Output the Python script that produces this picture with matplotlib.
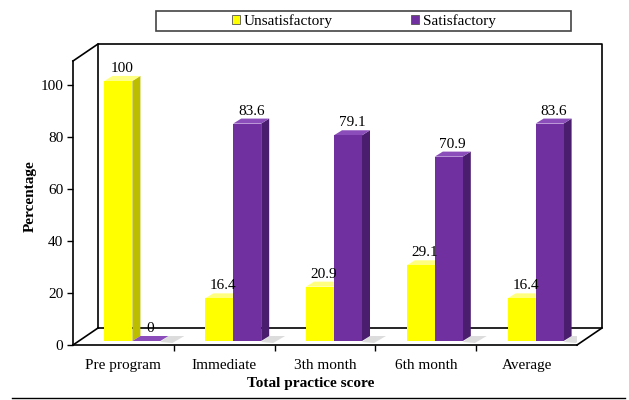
import matplotlib

matplotlib.use('Agg')
import matplotlib.pyplot as plt
from matplotlib.patches import Polygon, Rectangle
from matplotlib.lines import Line2D
import numpy as np

plt.rcParams['font.family'] = ['Liberation Serif', 'DejaVu Serif']
plt.rcParams['font.size'] = 11

categories = ['Pre program', 'Immediate', '3th month', '6th month', 'Average']
unsat = [100, 16.4, 20.9, 29.1, 16.4]
sat = [0, 83.6, 79.1, 70.9, 83.6]
series = [('Unsatisfactory', unsat, '#FFFF00', '#BDBD00', '#FFFF80'),
          ('Satisfactory', sat, '#7030A0', '#4A1D6E', '#8A4DBA')]

fig = plt.figure(figsize=(6.29, 4.0), dpi=100)
ax = fig.add_axes([73 / 629, 55 / 400, 504 / 629, 284 / 400])
ax.set_xlim(-0.5, 4.5)
ax.set_ylim(0, 109.2)

# pixels -> data units
ux = 504 / 5.0
uy = 284 / 109.2
w = 28 / ux
sx, sy = 9 / ux, 4 / uy       # bar offset from front plane
ddx, ddy = 8 / ux, 5 / uy     # bar depth

x = np.arange(len(categories))
for k, (name, vals, c_front, c_side, c_top) in enumerate(series):
    left = x - w + k * w + sx
    for xl, v in zip(left, vals):
        xr = xl + w
        # floor shadow
        if k == 1:
            ax.add_patch(Polygon([(xr + ddx, sy + ddy),
                                  (xr + ddx + 16 / ux, sy + ddy),
                                  (xr + 12 / ux, sy - 2 / uy), (xr, sy - 1 / uy)],
                                 closed=True, color='#d4d4d4', alpha=0.8,
                                 lw=0, zorder=1))
        ax.add_patch(Polygon([(xr, sy), (xr, sy + v), (xr + ddx, sy + v + ddy),
                              (xr + ddx, sy + ddy)], closed=True,
                             color=c_side, lw=0, zorder=2 + k))
        ax.add_patch(Polygon([(xl, sy + v), (xr, sy + v),
                              (xr + ddx, sy + v + ddy), (xl + ddx, sy + v + ddy)],
                             closed=True, color=c_top, lw=0, zorder=2 + k))
        ax.text(xl + w / 2 + 4 / ux, sy + v + ddy + 1 / uy, '%g' % v,
                ha='center', va='bottom', fontsize=11, zorder=5)
    ax.bar(left, vals, width=w, bottom=sy, align='edge', color=c_front,
           lw=0, zorder=2 + k, label=name)

# back wall and floor edges
bx, by = 25 / 504, 17 / 284
lk = dict(color='black', lw=1.2, transform=ax.transAxes, clip_on=False, zorder=0.5)
ax.plot([bx, bx, 1 + bx, 1 + bx, bx], [by, 1 + by, 1 + by, by, by], **lk)
ax.plot([0, bx], [1, 1 + by], **lk)
ax.plot([0, bx], [0, by], **lk)
ax.plot([1, 1 + bx], [0, by], **lk)

for s in ['top', 'right']:
    ax.spines[s].set_visible(False)
for s in ['left', 'bottom']:
    ax.spines[s].set_linewidth(1.2)

ax.set_yticks(range(0, 101, 20))
ax.tick_params(axis='y', direction='out', length=4, width=1, pad=3, labelsize=11)
ax.set_xticks(x)
ax.set_xticklabels(categories)
ax.set_xticks(x[:-1] + 0.5, minor=True)
ax.tick_params(axis='x', which='major', length=0, pad=10, labelsize=11)
ax.tick_params(axis='x', which='minor', direction='out', length=4, width=1)

fig.text(30 / 629, 1 - 196 / 400, 'Percentage', rotation=90, ha='center',
         va='center', fontweight='bold', fontsize=11)
fig.text(311 / 629, 1 - 383 / 400, 'Total practice score', ha='center',
         va='center', fontweight='bold', fontsize=11)

# legend
fig.add_artist(Rectangle((156 / 629, 1 - 31 / 400), 415 / 629, 20 / 400,
                         transform=fig.transFigure, fill=False,
                         edgecolor='#444444', lw=1.2))
leg = fig.legend(loc='center', bbox_to_anchor=(364 / 629, 1 - 21 / 400), ncol=2,
                 frameon=False, handlelength=0.5, handleheight=0.5,
                 handletextpad=0.3, columnspacing=5.1, fontsize=11,
                 borderpad=0)
for h in leg.legend_handles:
    h.set_edgecolor('#555555')
    h.set_linewidth(0.6)

fig.add_artist(Line2D([12 / 629, 625 / 629], [2 / 400, 2 / 400],
                      color='black', lw=1.0))

plt.savefig('out.png', dpi=100)
plt.close()
